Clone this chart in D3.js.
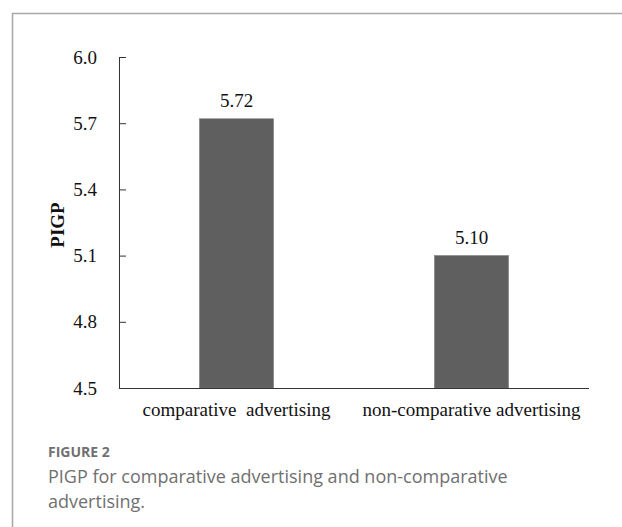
<!DOCTYPE html>
<html>
<head>
<meta charset="utf-8">
<script src="https://cdn.jsdelivr.net/npm/d3@7"></script>
<style>
  body { margin: 0; background: #fff; }
  svg { display: block; }
</style>
</head>
<body>
<script>
const width = 622, height = 527

// data
const categories = ["comparative  advertising", "non-comparative advertising"]
const values = [5.72, 5.10]
const valueLabels = ["5.72", "5.10"]
const yTicks = [4.5, 4.8, 5.1, 5.4, 5.7, 6.0]

let svg = d3.select("body")
    .append("svg")
    .attr("width", width)
    .attr("height", height)

// frame
svg.append("path")
    .attr("d", "M12.5," + height + "V13.5H" + width)
    .attr("fill", "none")
    .attr("stroke", "#a8a8a8")
    .attr("stroke-width", 1.5)

const y = d3.scaleLinear()
    .domain([4.5, 6.0])
    .range([388, 57])

const x = d3.scaleBand()
    .domain(categories)
    .range([119, 589])
    .paddingInner(0.685)
    .paddingOuter(0.3425)

const serif = "'Liberation Serif', 'Times New Roman', serif"

// bars
svg.selectAll("rect.bar")
    .data(values)
    .join("rect")
    .attr("class", "bar")
    .attr("x", (d, i) => x(categories[i]))
    .attr("width", x.bandwidth())
    .attr("y", (d) => y(d))
    .attr("height", (d) => y(4.5) - y(d))
    .attr("fill", "#5f5f5f")
    .attr("stroke", "#7a7a7a")
    .attr("stroke-width", 0.6)

// value labels
svg.selectAll("text.val")
    .data(values)
    .join("text")
    .attr("class", "val")
    .attr("x", (d, i) => x(categories[i]) + x.bandwidth() / 2)
    .attr("y", (d) => y(d) - 12)
    .attr("text-anchor", "middle")
    .style("font-family", serif)
    .style("font-size", "19px")
    .attr("fill", "#111")
    .text((d, i) => valueLabels[i])

// y axis
let yAxis = svg.append("g")
    .attr("transform", "translate(119,0)")
    .call(d3.axisLeft(y)
        .tickValues(yTicks)
        .tickFormat(d3.format(".1f"))
        .tickSizeInner(-7)
        .tickSizeOuter(0)
        .tickPadding(22))
yAxis.select(".domain").attr("stroke", "#333")
yAxis.selectAll(".tick line").attr("stroke", "#333")
yAxis.selectAll("text")
    .style("font-family", serif)
    .style("font-size", "19px")
    .attr("fill", "#111")

// x axis
let xAxis = svg.append("g")
    .attr("transform", "translate(0,388)")
    .call(d3.axisBottom(x).tickSize(0).tickPadding(15))
xAxis.select(".domain").attr("stroke", "#333").attr("d", "M119,0.5H589")
xAxis.selectAll("text")
    .style("font-family", serif)
    .style("font-size", "19px")
    .style("white-space", "pre")
    .attr("fill", "#111")

// y title
svg.append("text")
    .attr("transform", "translate(64,225) rotate(-90)")
    .attr("text-anchor", "middle")
    .style("font-family", serif)
    .style("font-size", "19px")
    .style("font-weight", "bold")
    .attr("fill", "#111")
    .text("PIGP")

// caption
const sans = "'Open Sans', 'Noto Sans', sans-serif"
svg.append("text")
    .attr("x", 48)
    .attr("y", 457)
    .style("font-family", sans)
    .style("font-size", "14px")
    .style("font-weight", "bold")
    .attr("fill", "#707070")
    .text("FIGURE 2")

const captionLines = ["PIGP for comparative advertising and non-comparative", "advertising."]
svg.selectAll("text.cap")
    .data(captionLines)
    .join("text")
    .attr("class", "cap")
    .attr("x", 48)
    .attr("y", (d, i) => 483 + i * 25)
    .style("font-family", sans)
    .style("font-size", "18px")
    .attr("fill", "#707070")
    .text((d) => d)
</script>
</body>
</html>
